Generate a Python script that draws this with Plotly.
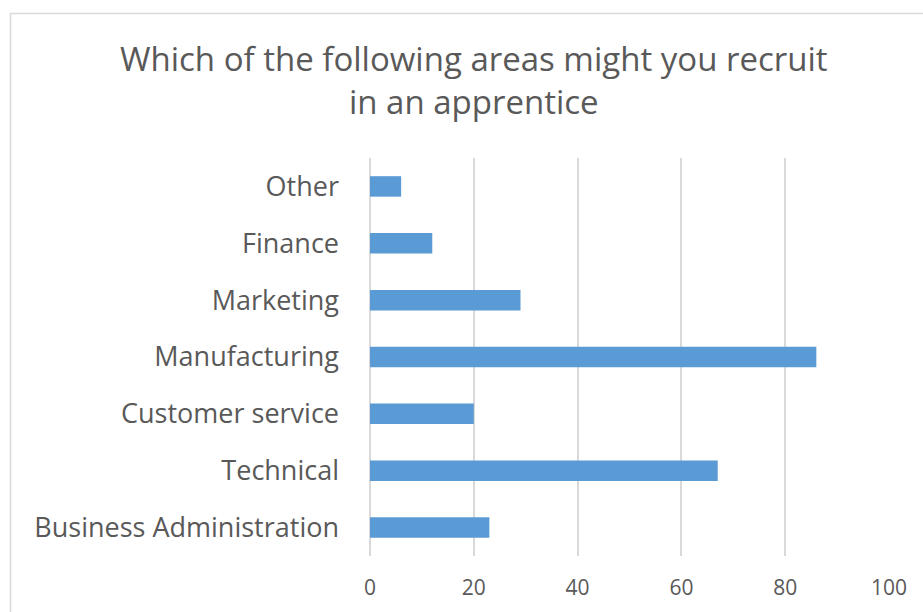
import plotly.graph_objects as go

# Survey responses: areas where an apprentice might be recruited
categories = ["Business Administration", "Technical", "Customer service",
              "Manufacturing", "Marketing", "Finance", "Other"]
counts = [23, 67, 20, 86, 29, 12, 6]
x_ticks = [0, 20, 40, 60, 80, 100]

title_text = "Which of the following areas might you recruit<br>in an apprentice"

FONT = "Open Sans"
TEXT = "#595959"
GRID = "#d9d9d9"

fig = go.Figure(
    go.Bar(
        x=counts,
        y=categories,
        orientation="h",
        marker=dict(color="#5b9bd5", line=dict(width=0)),
        hoverinfo="x+y",
    )
)

fig.update_layout(
    width=923,
    height=612,
    margin=dict(l=370, r=34, t=158, b=56),
    paper_bgcolor="white",
    plot_bgcolor="white",
    bargap=0.64,
    showlegend=False,
    font=dict(family=FONT, color=TEXT),
    xaxis=dict(
        range=[0, 100],
        tickvals=x_ticks,
        showgrid=True,
        gridcolor=GRID,
        gridwidth=1.5,
        zeroline=True,
        zerolinecolor=GRID,
        zerolinewidth=1.5,
        showline=False,
        tickfont=dict(size=21, color=TEXT, family=FONT),
        ticklabelstandoff=17,
        fixedrange=True,
    ),
    yaxis=dict(
        categoryorder="array",
        categoryarray=categories,
        showgrid=False,
        showline=False,
        zeroline=False,
        tickfont=dict(size=27, color=TEXT, family=FONT),
        ticklabelstandoff=30,
        fixedrange=True,
    ),
    annotations=[
        dict(
            text=title_text,
            xref="paper", yref="paper",
            x=(474 - 370) / 519, y=(556 - 80) / 398,
            xanchor="center", yanchor="middle",
            showarrow=False,
            align="center",
            font=dict(size=33, color=TEXT, family=FONT),
        )
    ],
    shapes=[
        dict(
            type="rect",
            xref="paper", yref="paper",
            x0=(10.5 - 370) / 519, x1=(940 - 370) / 519,
            y0=(556 - 640) / 398, y1=(556 - 13.5) / 398,
            line=dict(color=GRID, width=1.5),
            fillcolor="rgba(0,0,0,0)",
            layer="below",
        )
    ],
)

fig.write_html("out.html")
